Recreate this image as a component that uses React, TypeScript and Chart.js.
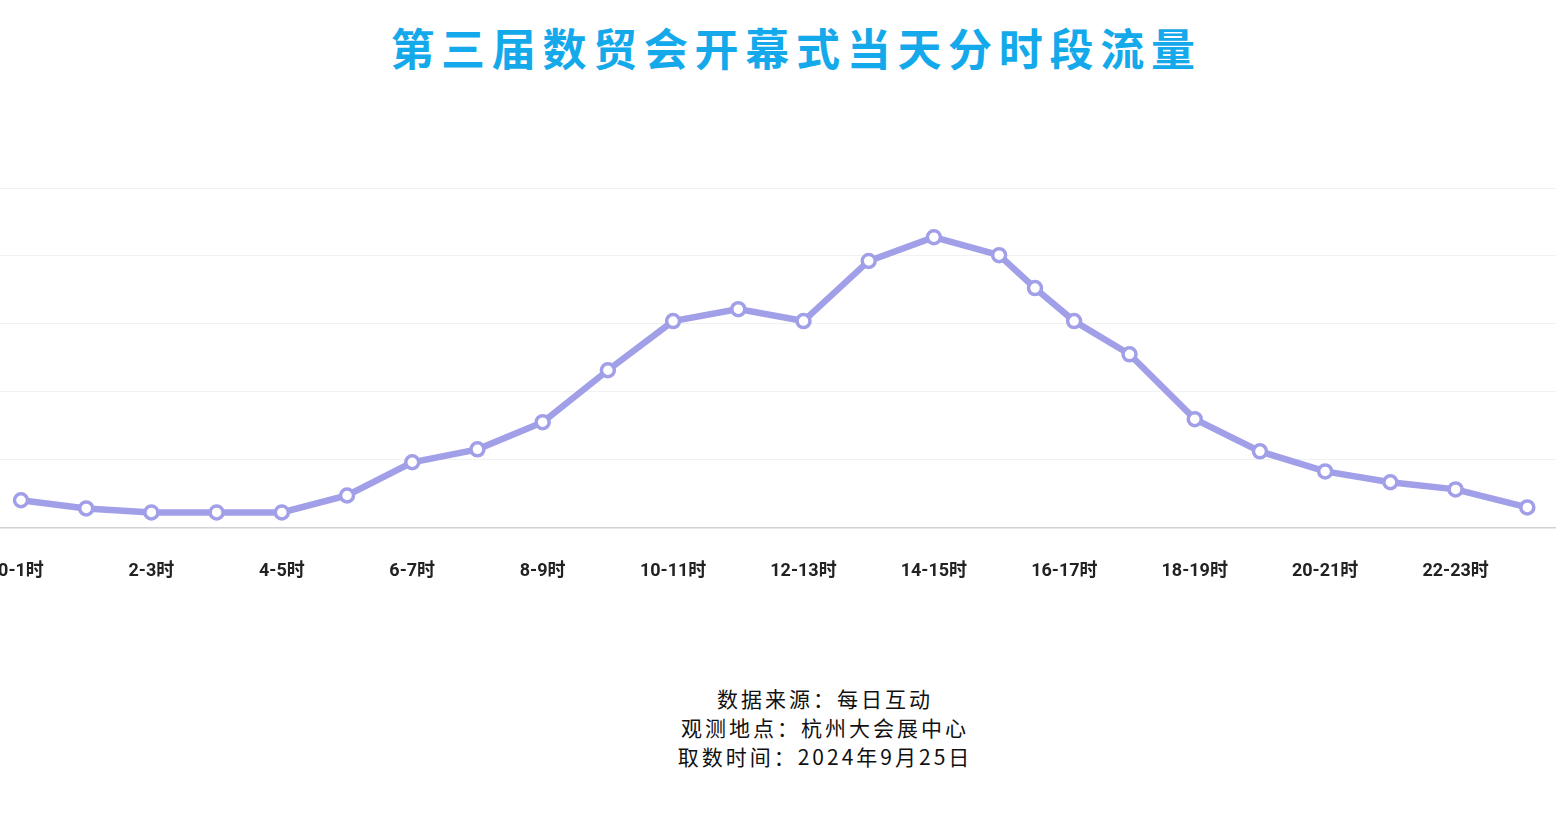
import React, { useEffect, useRef } from "react";
import { Chart, registerables } from "chart.js";

Chart.register(...registerables);

const TITLE = "第三届数贸会开幕式当天分时段流量";
const FOOTER_LINES = ["数据来源：每日互动", "观测地点：杭州大会展中心", "取数时间：2024年9月25日"];

// hour position of each point on the x axis (as drawn in the source)
const hours = [0, 1, 2, 3, 4, 5, 6, 7, 8, 9, 10, 11, 12, 13, 14, 15, 15.55, 16.15, 17, 18, 19, 20, 21, 22, 23.1];
// relative flow (gridline step = 20)
const flow = [8.0, 5.6, 4.4, 4.4, 4.4, 9.4, 19.2, 23.0, 31.0, 46.3, 60.8, 64.3, 60.8, 78.5, 85.5, 80.2, 70.5, 60.8, 51.0, 31.9, 22.4, 16.5, 13.3, 11.2, 5.9];

const tickHours = [0, 2, 4, 6, 8, 10, 12, 14, 16, 18, 20, 22];
const tickLabels = ["0-1时", "2-3时", "4-5时", "6-7时", "8-9时", "10-11时", "12-13时", "14-15时", "16-17时", "18-19时", "20-21时", "22-23时"];

const X_MIN = -0.322;
const X_MAX = 23.54;
const Y_MIN = 0;
const Y_MAX = 100;
const Y_STEP = 20;

export default function App() {
  const ref = useRef<HTMLCanvasElement | null>(null);

  useEffect(() => {
    if (!ref.current) return;
    const chart = new Chart(ref.current, {
      type: "line",
      data: {
        datasets: [
          {
            data: hours.map((h, i) => ({ x: h, y: flow[i] })),
            borderColor: "#a19fe7",
            borderWidth: 6.5,
            pointRadius: 6.5,
            pointBorderWidth: 3.5,
            pointBackgroundColor: "#ffffff",
            pointBorderColor: "#a19fe7",
            tension: 0,
            clip: false as any,
          },
        ],
      },
      options: {
        animation: false,
        responsive: false,
        layout: { autoPadding: false, padding: { top: 8, bottom: 18, left: 0, right: 0 } },
        plugins: { legend: { display: false }, tooltip: { enabled: false }, title: { display: false } },
        scales: {
          x: {
            type: "linear",
            min: X_MIN,
            max: X_MAX,
            afterBuildTicks: (axis: any) => {
              axis.ticks = tickHours.map((v) => ({ value: v }));
            },
            afterFit: (axis: any) => {
              axis.paddingLeft = 0;
              axis.paddingRight = 0;
            },
            grid: { display: false, drawTicks: false },
            border: { display: true, color: "#d2d2d2", width: 1.5 },
            ticks: {
              autoSkip: false,
              maxRotation: 0,
              padding: 33,
              color: "#222222",
              font: { family: "Roboto, 'Noto Sans CJK SC', sans-serif", size: 18, weight: "bold" },
              callback: (v: any) => {
                const i = tickHours.indexOf(Number(v));
                return i >= 0 ? tickLabels[i] : "";
              },
            },
          },
          y: {
            min: Y_MIN,
            max: Y_MAX,
            afterFit: (axis: any) => {
              axis.width = 0;
            },
            ticks: { display: false, stepSize: Y_STEP },
            grid: { color: "#f1f1f1", lineWidth: 1, drawTicks: false },
            border: { display: false },
          },
        },
      },
    });
    return () => chart.destroy();
  }, []);

  return (
    <div style={{ position: "absolute", left: 0, top: 0, width: 1556, height: 834, background: "#fff", overflow: "hidden" }}>
      <div
        style={{
          position: "absolute",
          left: 18,
          top: 18,
          width: 1556,
          textAlign: "center",
          fontFamily: "'Noto Sans CJK SC', sans-serif",
          fontWeight: 700,
          fontSize: 44,
          lineHeight: "58px",
          letterSpacing: 6.7,
          color: "#14a9ea",
        }}
      >
        {TITLE}
      </div>
      <canvas ref={ref} width={1556} height={453} style={{ position: "absolute", left: 0, top: 180, width: 1556, height: 453 }} />
      <div
        style={{
          position: "absolute",
          left: 47,
          top: 684,
          width: 1556,
          textAlign: "center",
          fontFamily: "'Noto Sans CJK SC', sans-serif",
          fontSize: 21,
          lineHeight: "29px",
          letterSpacing: 3,
          color: "#111",
        }}
      >
        {FOOTER_LINES.map((l, i) => (
          <div key={i}>{l}</div>
        ))}
      </div>
    </div>
  );
}
